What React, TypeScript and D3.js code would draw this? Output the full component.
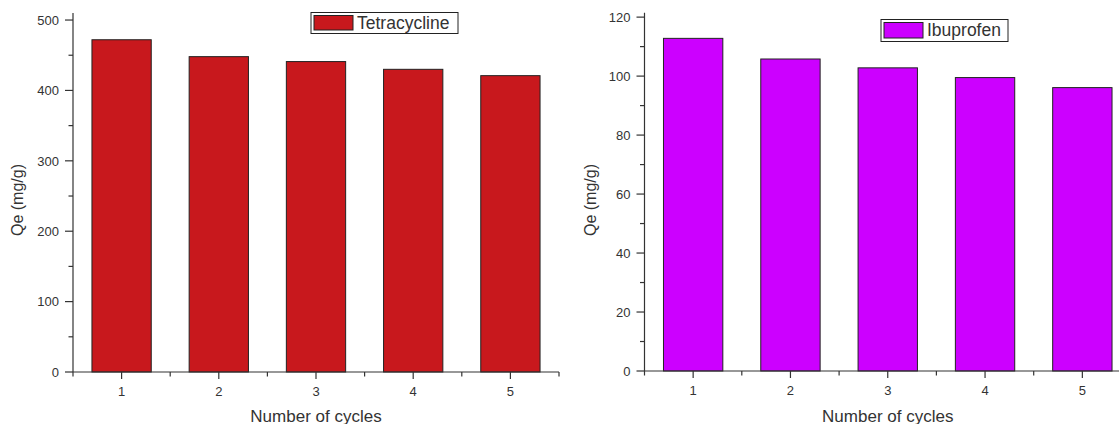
import React from "react";
import * as d3 from "d3";

const cycles = [1, 2, 3, 4, 5];
const tetracyclineQe = [472, 448, 441, 430, 421];
const ibuprofenQe = [112.8, 105.8, 102.8, 99.5, 96.1];
const leftYTicks = [0, 100, 200, 300, 400, 500];
const leftYMinor = [50, 150, 250, 350, 450];
const rightYTicks = [0, 20, 40, 60, 80, 100, 120];
const rightYMinor = [10, 30, 50, 70, 90, 110];
const xMinor = [0.5, 1.5, 2.5, 3.5, 4.5, 5.5];

const FONT = "'Liberation Sans', Arial, sans-serif";
const TXT = "#333";
const AX = "#333";

type PanelProps = {
  values: number[];
  yMax: number;
  yTicks: number[];
  yMinor: number[];
  xRange: [number, number];
  yRange: [number, number];
  color: string;
  name: string;
  legend: { x: number; y: number; w: number; h: number };
  yLabelX: number;
};

function Panel(p: PanelProps) {
  const x = d3.scaleLinear().domain([0.5, 5.5]).range(p.xRange);
  const y = d3.scaleLinear().domain([0, p.yMax]).range(p.yRange);
  const x0 = p.xRange[0];
  const y0 = y(0);
  const bw = x(1.61) - x(1);
  const lg = p.legend;
  return (
    <g>
      {p.values.map((v, i) => (
        <rect
          key={i}
          x={x(cycles[i]) - bw / 2}
          y={y(v)}
          width={bw}
          height={y0 - y(v)}
          fill={p.color}
          stroke="#222"
          strokeWidth={1}
        />
      ))}
      {/* axes */}
      <line x1={x0} x2={x0} y1={p.yRange[1]} y2={y0} stroke={AX} strokeWidth={1.2} />
      <line x1={x0} x2={p.xRange[1]} y1={y0} y2={y0} stroke={AX} strokeWidth={1.2} />
      {p.yTicks.map((t) => (
        <g key={"yt" + t}>
          <line x1={x0 - 8} x2={x0} y1={y(t)} y2={y(t)} stroke={AX} strokeWidth={1.2} />
          <text x={x0 - 14} y={y(t) + 4.7} textAnchor="end" fontSize={13} fontFamily={FONT} fill={TXT}>
            {t}
          </text>
        </g>
      ))}
      {p.yMinor.map((t) => (
        <line key={"ym" + t} x1={x0 - 4.5} x2={x0} y1={y(t)} y2={y(t)} stroke={AX} strokeWidth={1.2} />
      ))}
      {cycles.map((c) => (
        <g key={"xt" + c}>
          <line x1={x(c)} x2={x(c)} y1={y0} y2={y0 + 7} stroke={AX} strokeWidth={1.2} />
          <text x={x(c)} y={y0 + 24} textAnchor="middle" fontSize={13} fontFamily={FONT} fill={TXT}>
            {c}
          </text>
        </g>
      ))}
      {xMinor.map((c) => (
        <line key={"xm" + c} x1={x(c)} x2={x(c)} y1={y0} y2={y0 + 4.5} stroke={AX} strokeWidth={1.2} />
      ))}
      <text
        x={(p.xRange[0] + p.xRange[1]) / 2}
        y={421.5}
        textAnchor="middle"
        fontSize={17}
        fontFamily={FONT}
        fill={TXT}
      >
        Number of cycles
      </text>
      <text
        transform={`translate(${p.yLabelX},200) rotate(-90)`}
        textAnchor="middle"
        fontSize={16}
        fontFamily={FONT}
        fill={TXT}
      >
        Qe (mg/g)
      </text>
      {/* legend */}
      <rect x={lg.x} y={lg.y} width={lg.w} height={lg.h} fill="white" stroke="#222" strokeWidth={1} />
      <rect x={lg.x + 3} y={lg.y + 3} width={39} height={lg.h - 6.5} fill={p.color} stroke="#222" strokeWidth={1} />
      <text x={lg.x + 46} y={lg.y + 16.3} fontSize={17.5} fontFamily={FONT} fill={TXT}>
        {p.name}
      </text>
    </g>
  );
}

export default function App() {
  return (
    <svg width={1119} height={424} style={{ position: "absolute", left: 0, top: 0, background: "white" }}>
      <rect width={1119} height={424} fill="white" />
      <Panel
        values={tetracyclineQe}
        yMax={510}
        yTicks={leftYTicks}
        yMinor={leftYMinor}
        xRange={[73, 559]}
        yRange={[372, 13]}
        color="#C8181D"
        name="Tetracycline"
        legend={{ x: 311, y: 12.5, w: 147, h: 21 }}
        yLabelX={23}
      />
      <Panel
        values={ibuprofenQe}
        yMax={121.5}
        yTicks={rightYTicks}
        yMinor={rightYMinor}
        xRange={[644.5, 1131]}
        yRange={[371, 12.7]}
        color="#CC00FF"
        name="Ibuprofen"
        legend={{ x: 881, y: 19.5, w: 127, h: 22 }}
        yLabelX={596}
      />
    </svg>
  );
}
